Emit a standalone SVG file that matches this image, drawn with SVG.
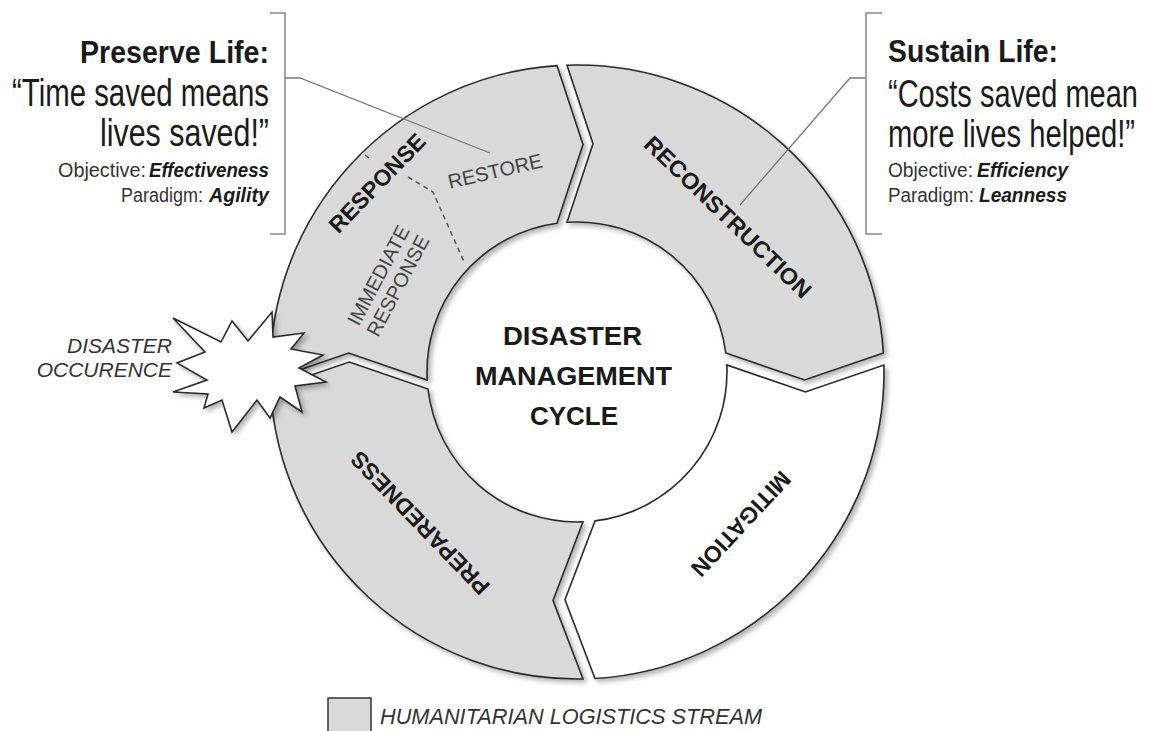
<svg xmlns="http://www.w3.org/2000/svg" width="1159" height="731" viewBox="0 0 1159 731">
<defs>
<filter id="sh" x="-10%" y="-10%" width="130%" height="130%">
<feDropShadow dx="3" dy="3" stdDeviation="2.5" flood-color="#000" flood-opacity="0.3"/>
</filter>
</defs>
<style>
.seg{stroke:#2b2b2b;stroke-width:1.6;stroke-linejoin:miter}
.gray{fill:#d9d9d9}
.white{fill:#ffffff}
.t{font-family:"Liberation Sans",Arial,sans-serif}
.lbl{font-family:"Liberation Sans",Arial,sans-serif;font-weight:bold;font-size:23px;fill:#1a1a1a;text-anchor:middle}
.sub{font-family:"Liberation Sans",Arial,sans-serif;font-size:20px;fill:#444;text-anchor:middle}
.title{font-weight:bold;font-size:32px;fill:#1a1a1a}
.quote{font-size:38px;fill:#1a1a1a}
.small{font-size:20px;fill:#333}
.bi{font-size:20px;font-weight:bold;font-style:italic;fill:#1a1a1a}
.center{font-family:"Liberation Sans",Arial,sans-serif;font-weight:bold;font-size:25px;fill:#1a1a1a}
.brk{fill:none;stroke:#888;stroke-width:1.5}
.con{fill:none;stroke:#777;stroke-width:1.3}
.dash{fill:none;stroke:#555;stroke-width:1.5;stroke-dasharray:5 4}
</style>
<rect width="1159" height="731" fill="#ffffff"/>

<g id="node-response">
<path class="seg gray" filter="url(#sh)" d="M270.1 380 A307 307 0 0 1 557 65.6 L583 144.5 L557 223.3 A150 150 0 0 0 427.2 380 L348.7 353 Z"/>
</g>
<g id="node-reconstruction">
<path class="seg gray" filter="url(#sh)" d="M567 65.2 A307 307 0 0 1 883.4 353 L804.6 380 L725.8 353 A150 150 0 0 0 567 222.3 L593 143.7 Z"/>
<text class="lbl" transform="translate(728 217) rotate(44)" dy="0.35em" textLength="222" lengthAdjust="spacingAndGlyphs">RECONSTRUCTION</text>
</g>
<g id="node-mitigation">
<path class="seg white" filter="url(#sh)" d="M883.9 365 A307 307 0 0 1 595 678.5 L565 599.7 L595 520.9 A150 150 0 0 0 726.8 365 L805.4 392 Z"/>
<text class="lbl" transform="translate(741 524) rotate(133)" dy="0.35em">MITIGATION</text>
</g>
<g id="node-preparedness">
<path class="seg gray" filter="url(#sh)" d="M583 678.9 A307 307 0 0 1 270.5 389 L349.2 362 L428 389 A150 150 0 0 0 583 521.9 L553 600.4 Z"/>
<text class="lbl" transform="translate(420 523) rotate(226)" dy="0.35em">PREPAREDNESS</text>
</g>

<g id="connectors">
<path class="dash" d="M365 155 L369 158"/>
<path class="dash" d="M408 177 L433 192 L465 264"/>
<path class="con" d="M285 78 H300 L490 153"/>
<path class="con" d="M866 78 H850 L740 205"/>
</g>

<g id="node-response-labels">
<text class="lbl" transform="translate(377 183) rotate(-46)" dy="0.35em">RESPONSE</text>
<text class="sub" transform="translate(495 171) rotate(-13)" dy="0.35em">RESTORE</text>
<g transform="translate(389 281) rotate(-62)">
<text class="sub" x="0" y="-5">IMMEDIATE</text>
<text class="sub" x="0" y="17">RESPONSE</text>
</g>
</g>

<g id="node-disaster">
<polygon class="seg white" filter="url(#sh)" points="173,318 221,342 232,321 248,341 272,312 273,337 304,333 291,349 323,355 299,368 326,382 295,386 302,412 280,397 270,418 257,400 232,432 222,400 204,408 208,394 173,392 207,380 177,363 205,352"/>
<text class="t" x="172" y="353" font-size="21" font-style="italic" fill="#333" text-anchor="end">DISASTER</text>
<text class="t" x="172" y="377" font-size="21" font-style="italic" fill="#333" text-anchor="end">OCCURENCE</text>
</g>

<g id="node-center">
<text class="center" x="503" y="345" textLength="139" lengthAdjust="spacingAndGlyphs">DISASTER</text>
<text class="center" x="475" y="385" textLength="197" lengthAdjust="spacingAndGlyphs">MANAGEMENT</text>
<text class="center" x="530" y="425" textLength="88" lengthAdjust="spacingAndGlyphs">CYCLE</text>
</g>

<g id="node-preserve">
<path class="brk" d="M270 13 H285 V234 H270"/>
<text class="t title" x="80" y="63" textLength="189" lengthAdjust="spacingAndGlyphs">Preserve Life:</text>
<text class="t quote" x="12" y="106" textLength="257" lengthAdjust="spacingAndGlyphs">“Time saved means</text>
<text class="t quote" x="100" y="146" textLength="169" lengthAdjust="spacingAndGlyphs">lives saved!”</text>
<text class="t small" x="58" y="177" textLength="88" lengthAdjust="spacingAndGlyphs">Objective:</text>
<text class="t bi" x="149" y="177" textLength="120" lengthAdjust="spacingAndGlyphs">Effectiveness</text>
<text class="t small" x="121" y="202" textLength="82" lengthAdjust="spacingAndGlyphs">Paradigm:</text>
<text class="t bi" x="209" y="202" textLength="60" lengthAdjust="spacingAndGlyphs">Agility</text>
</g>

<g id="node-sustain">
<path class="brk" d="M882 13 H866 V234 H882"/>
<text class="t title" x="888" y="62" textLength="170" lengthAdjust="spacingAndGlyphs">Sustain Life:</text>
<text class="t quote" transform="translate(888 107) scale(0.765 1)" x="0" y="0" textLength="326.8" lengthAdjust="spacingAndGlyphs">“Costs saved mean</text>
<text class="t quote" transform="translate(888 147) scale(0.765 1)" x="0" y="0" textLength="322.9" lengthAdjust="spacingAndGlyphs">more lives helped!”</text>
<text class="t small" x="888" y="177" textLength="85" lengthAdjust="spacingAndGlyphs">Objective:</text>
<text class="t bi" x="977" y="177" textLength="91" lengthAdjust="spacingAndGlyphs">Efficiency</text>
<text class="t small" x="888" y="202" textLength="86" lengthAdjust="spacingAndGlyphs">Paradigm:</text>
<text class="t bi" x="979" y="202" textLength="88" lengthAdjust="spacingAndGlyphs">Leanness</text>
</g>

<g id="node-legend">
<rect x="328" y="698" width="43" height="45" fill="#d9d9d9" stroke="#333" stroke-width="1.5"/>
<text class="t" x="380" y="724" font-size="22" font-style="italic" fill="#333" textLength="382" lengthAdjust="spacingAndGlyphs">HUMANITARIAN LOGISTICS STREAM</text>
</g>
</svg>
